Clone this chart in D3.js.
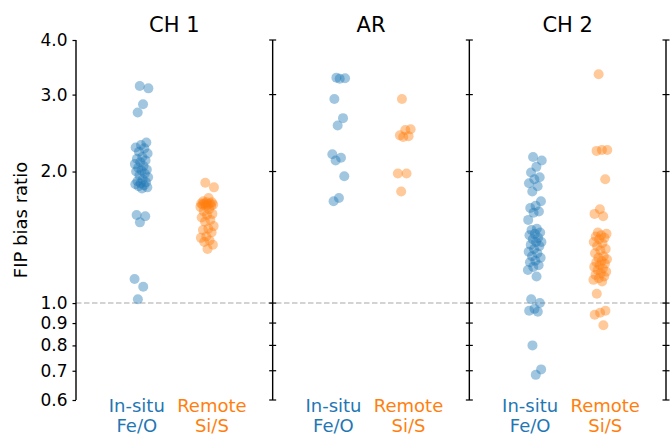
<!DOCTYPE html>
<html>
<head>
<meta charset="utf-8">
<script src="https://cdn.jsdelivr.net/npm/d3@7"></script>
<style>
  html, body { margin: 0; padding: 0; background: #fff; }
  svg { display: block; font-family: "DejaVu Sans", sans-serif; }
</style>
</head>
<body>
<svg id="chart" width="670" height="435"></svg>
<script>
// ---- data ----
const panels = ["CH 1", "AR", "CH 2"];
const categories = ["In-situ Fe/O", "Remote Si/S"];
const categoryLines = [["In-situ", "Fe/O"], ["Remote", "Si/S"]];
const yTicks = [0.6, 0.7, 0.8, 0.9, 1.0, 2.0, 3.0, 4.0];

const ch1InSitu = [3.14, 3.10, 2.85, 2.73, 2.33, 2.30, 2.27, 2.26, 2.22, 2.20, 2.16, 2.14, 2.12,
  2.10, 2.08, 2.06, 2.04, 2.02, 2.01, 2.00, 1.98, 1.96, 1.94, 1.92, 1.90, 1.89, 1.88, 1.87,
  1.86, 1.85, 1.84, 1.83, 1.59, 1.58, 1.53, 1.135, 1.09, 1.02];
const ch1Remote = [1.885, 1.84, 1.74, 1.71, 1.70, 1.70, 1.69, 1.69, 1.69, 1.68, 1.68, 1.68,
  1.67, 1.67, 1.66, 1.64, 1.62, 1.60, 1.59, 1.57, 1.55, 1.535, 1.50, 1.48, 1.47, 1.45, 1.42,
  1.41, 1.39, 1.38, 1.36, 1.33];
const arInSitu = [3.28, 3.27, 3.26, 2.93, 2.65, 2.55, 2.19, 2.15, 2.12, 1.95, 1.74, 1.71];
const arRemote = [2.93, 2.50, 2.49, 2.42, 2.41, 2.40, 1.98, 1.98, 1.80];
const ch2InSitu = [2.16, 2.12, 2.05, 1.99, 1.94, 1.92, 1.88, 1.85, 1.80, 1.71, 1.67, 1.65, 1.62,
  1.61, 1.55, 1.48, 1.47, 1.45, 1.44, 1.43, 1.41, 1.40, 1.38, 1.38, 1.36, 1.35, 1.33, 1.31,
  1.30, 1.28, 1.27, 1.25, 1.24, 1.22, 1.21, 1.19, 1.15, 1.02, 1.00, 0.97, 0.96, 0.955, 0.80,
  0.705, 0.685];
const ch2Remote = [3.34, 2.24, 2.24, 2.23, 1.92, 1.64, 1.60, 1.58, 1.45, 1.44, 1.43, 1.42, 1.41,
  1.40, 1.38, 1.37, 1.35, 1.33, 1.32, 1.30, 1.28, 1.27, 1.26, 1.25, 1.24, 1.23, 1.22, 1.21,
  1.20, 1.19, 1.18, 1.17, 1.16, 1.15, 1.14, 1.13, 1.12, 1.05, 0.96, 0.95, 0.94, 0.89];

const seriesByPanel = {
  "CH 1": [ch1InSitu, ch1Remote],
  "AR": [arInSitu, arRemote],
  "CH 2": [ch2InSitu, ch2Remote]
};
const colors = ["#1f77b4", "#ff7f0e"];

// ---- layout ----
const svg = d3.select("#chart");
const plotLeft = 76, plotRight = 666, plotTop = 40, plotBottom = 400;

const x = d3.scaleBand().domain(panels).range([plotLeft, plotRight]).paddingInner(0).paddingOuter(0);
const bw = x.bandwidth();
const xCat = d3.scalePoint().domain(categories).range([0, bw]).padding(1);
const xLab = d3.scalePoint().domain(categories).range([0, bw]).padding(0.81);
const y = d3.scaleLog().domain([0.6, 4.0]).range([plotBottom, plotTop]);

// deterministic jitter (low-discrepancy sequence)
const jitter = i => (((i * 0.618034 + 0.37) % 1) - 0.5) * 14;

// dashed reference line at 1.0
svg.append("line")
  .attr("x1", plotLeft).attr("x2", plotRight)
  .attr("y1", y(1.0)).attr("y2", y(1.0))
  .attr("stroke", "#a8a8a8").attr("stroke-width", 1.1)
  .attr("stroke-dasharray", "5.5,2.5");

// points
panels.forEach(p => {
  const g = svg.append("g").attr("transform", `translate(${x(p)},0)`);
  seriesByPanel[p].forEach((vals, ci) => {
    g.selectAll(null).data(vals).enter().append("circle")
      .attr("cx", (d, i) => xCat(categories[ci]) + jitter(i))
      .attr("cy", d => y(d))
      .attr("r", 5)
      .attr("fill", colors[ci])
      .attr("fill-opacity", 0.42);
  });
  // title
  svg.append("text")
    .attr("x", x(p) + bw / 2).attr("y", 32)
    .attr("text-anchor", "middle")
    .attr("font-size", 21).attr("fill", "#000")
    .text(p);
  // category labels
  categories.forEach((c, ci) => {
    const t = svg.append("text")
      .attr("x", x(p) + xLab(c)).attr("y", 412)
      .attr("text-anchor", "middle")
      .attr("font-size", 18).attr("fill", colors[ci]);
    categoryLines[ci].forEach((line, li) => {
      t.append("tspan").attr("x", x(p) + xLab(c)).attr("dy", li === 0 ? 0 : 20).text(line);
    });
  });
});

// left axis
const leftAxis = d3.axisLeft(y).tickValues(yTicks).tickFormat(d3.format(".1f"))
  .tickSize(3.5).tickPadding(5);
const gl = svg.append("g").attr("transform", `translate(${plotLeft},0)`).call(leftAxis);
gl.select(".domain").attr("d", `M0,${plotTop}V${plotBottom}`).attr("stroke-width", 1.4);
gl.selectAll(".tick line").attr("stroke-width", 1.2);
gl.selectAll(".tick text").attr("font-size", 17).attr("font-family", "DejaVu Sans").attr("fill", "#000");

// interior / right spines with crossing ticks
[x("AR"), x("CH 2"), plotRight].forEach(px => {
  const gs = svg.append("g").attr("transform", `translate(${px},0)`);
  gs.append("line").attr("x1", 0).attr("x2", 0).attr("y1", plotTop).attr("y2", plotBottom)
    .attr("stroke", "#000").attr("stroke-width", 1.4);
  gs.selectAll("line.tk").data(yTicks).enter().append("line").attr("class", "tk")
    .attr("x1", -3.5).attr("x2", 3.5)
    .attr("y1", d => y(d)).attr("y2", d => y(d))
    .attr("stroke", "#000").attr("stroke-width", 1.2);
});

// y label
svg.append("text")
  .attr("transform", `translate(27,${(plotTop + plotBottom) / 2}) rotate(-90)`)
  .attr("text-anchor", "middle")
  .attr("font-size", 18).attr("fill", "#000")
  .text("FIP bias ratio");
</script>
</body>
</html>
